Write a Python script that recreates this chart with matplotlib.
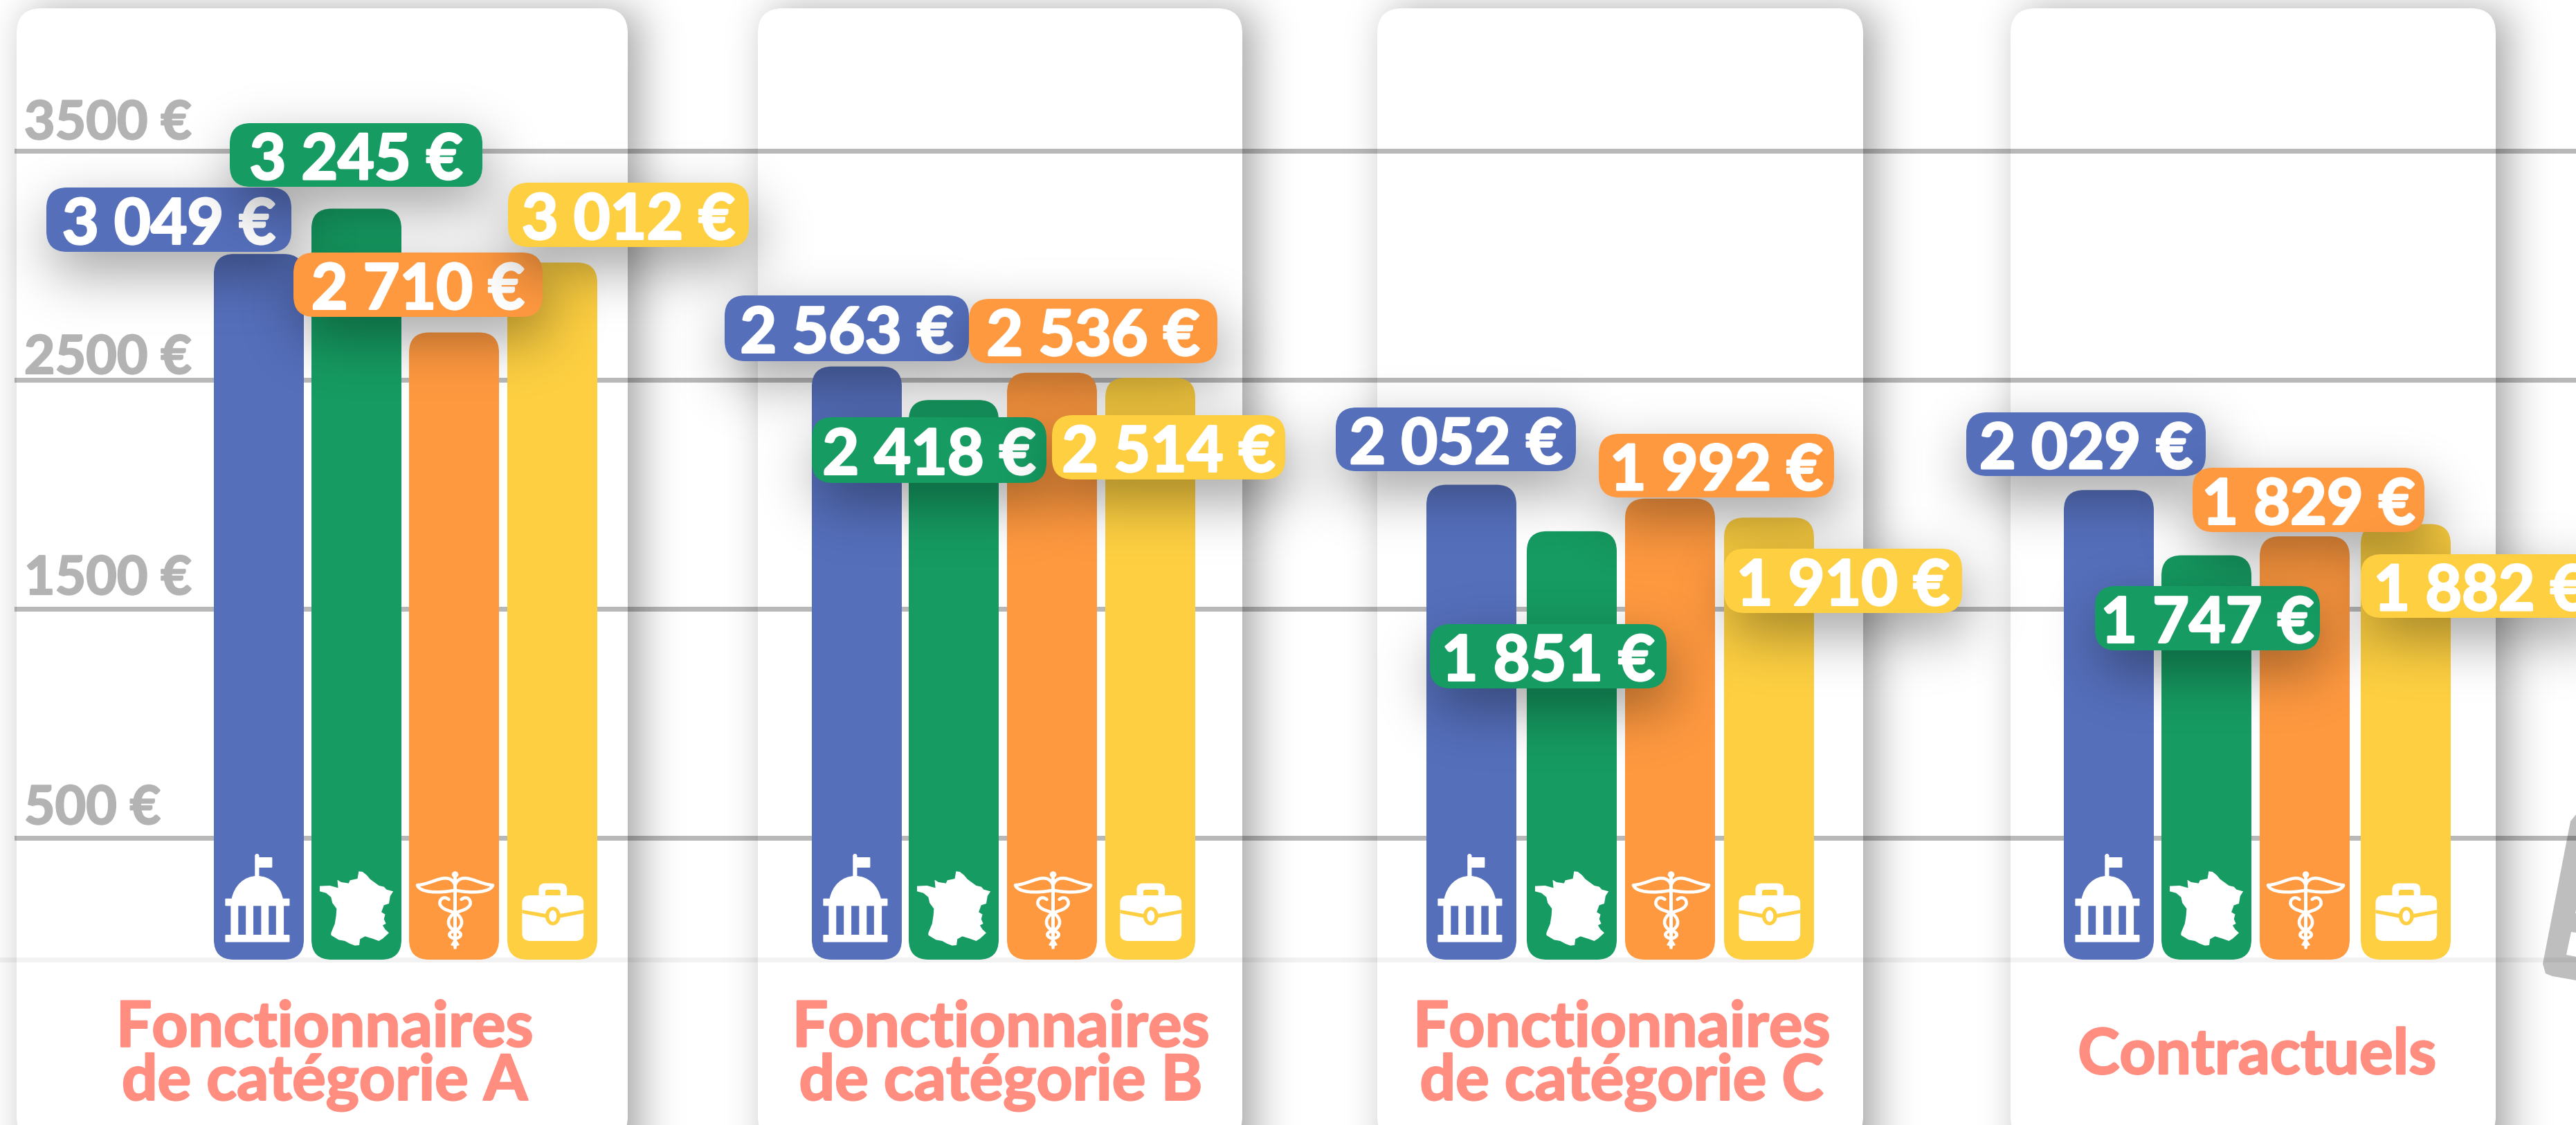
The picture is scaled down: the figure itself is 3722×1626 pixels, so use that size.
import math
import numpy as np
import matplotlib
matplotlib.use("Agg")
import matplotlib.pyplot as plt
import matplotlib.patheffects as pe
from matplotlib.patches import FancyBboxPatch, Polygon, Rectangle, Ellipse, Circle, PathPatch
from matplotlib.path import Path
from matplotlib.transforms import Affine2D, ScaledTranslation

W, H = 3723, 1626
FONT = ['Lato', 'DejaVu Sans']

# ---- data ----
groups = ["Fonctionnaires\nde catégorie A", "Fonctionnaires\nde catégorie B",
          "Fonctionnaires\nde catégorie C", "Contractuels"]
etat = [3049, 2563, 2052, 2029]
territoriale = [3245, 2418, 1851, 1747]
hospitaliere = [2710, 2536, 1992, 1829]
prive = [3012, 2514, 1910, 1882]
tick_values = [500, 1500, 2500, 3500]
tick_labels = ["500 €", "1500 €", "2500 €", "3500 €"]

# ---- layout, in pixels of the picture ----
colors = ["#556FBB", "#169B62", "#FF9940", "#FDCF41"]
cards = [(24, 907), (1095, 1795), (1990, 2692), (2905, 3606)]
bar_lefts = [[309, 450, 591, 733], [1173, 1313, 1455, 1597],
             [2061, 2206, 2348, 2491], [2982, 3123, 3265, 3411]]
BAR_W = 130
pill_boxes = [
    [(67, 421, 271, 364), (332, 697, 178, 270), (424, 784, 365, 458), (734, 1082, 264, 357)],
    [(1047, 1400, 427, 522), (1173, 1512, 603, 698), (1400, 1759, 432, 525), (1520, 1857, 600, 693)],
    [(1930, 2277, 589, 681), (2066, 2408, 902, 995), (2310, 2650, 627, 719), (2491, 2835, 793, 886)],
    [(2841, 3187, 596, 688), (3027, 3352, 847, 940), (3168, 3503, 676, 769), (3411, 3756, 801, 893)],
]
label_xc = [469, 1446, 2343, 3261]
label_yc = [1526, 1526, 1526, 1526]
tick_lift = [20, 21, 9, 17]      # gap between a tick label's baseline and its line

fig = plt.figure(figsize=(W / 100, H / 100), dpi=100, facecolor="white")
PX = Affine2D().scale(1, -1).translate(0, H)

ax_bg = fig.add_axes([0, 0, 1, 1], zorder=0)
ax_bg.set_xlim(0, W); ax_bg.set_ylim(H, 0); ax_bg.axis("off")

_erf = np.vectorize(math.erf)


def _phi(t):
    return 0.5 * (1 + _erf(t / math.sqrt(2)))


def soft_shadow(ax, x0, x1, y0, y1, sigma, total, z, dx=0, dy=0):
    """Blurred box shadow: the exact gaussian blur of a rectangle, shown as a smooth image."""
    m = 3.2 * sigma
    lx, rx = x0 + dx - m, x1 + dx + m
    ty, by = y0 + dy - m, y1 + dy + m
    xs = np.arange(lx, rx + 4, 4.0)
    ys = np.arange(ty, by + 4, 4.0)
    fx = _phi((xs - (x0 + dx)) / sigma) - _phi((xs - (x1 + dx)) / sigma)
    fy = _phi((ys - (y0 + dy)) / sigma) - _phi((ys - (y1 + dy)) / sigma)
    rgba = np.zeros((len(ys), len(xs), 4))
    rgba[..., 3] = total * np.outer(fy, fx)
    ax.imshow(rgba, extent=(xs[0], xs[-1], ys[-1], ys[0]), origin="upper", aspect="auto",
              interpolation="bilinear", zorder=z, transform=PX)


for x0, x1 in cards:
    soft_shadow(ax_bg, x0, x1, 12, 1900, 30, 0.37, 1, dx=18, dy=4)
for x0, x1 in cards:
    ax_bg.add_patch(FancyBboxPatch((x0, 12), x1 - x0, 1650 - 12,
                                   boxstyle="round,pad=0,rounding_size=36",
                                   fc="white", ec="none", zorder=3, transform=PX))

# the tilted grey shape cut by the right edge
ax_bg.add_patch(Polygon([(3723, 1176), (3714, 1187), (3674, 1393), (3678, 1407), (3688, 1411), (3723, 1417)],
                        closed=True, fc="#BEBEBE", ec="none", zorder=4, transform=PX))
ax_bg.add_patch(Polygon([(3723, 1348), (3715, 1347), (3708, 1380), (3723, 1383)],
                        closed=True, fc="white", ec="none", zorder=5, transform=PX))
ax_bg.add_patch(Polygon([(3723, 1310), (3721, 1320), (3723, 1320)],
                        closed=True, fc="white", ec="none", zorder=5, transform=PX))
ax_bg.set_xlim(0, W); ax_bg.set_ylim(H, 0)

# grid layer: 500 -> y=1211 px, 3500 -> y=218 px
ax_grid = fig.add_axes([21 / W, 0, 1 - 21 / W, 1], zorder=1)
ax_grid.patch.set_alpha(0)
k = (1211 - 218) / 3000
ax_grid.set_ylim(-(H - 1211) / k + 500, 1211 / k + 500)
ax_grid.set_xlim(0, 1)
for s in ax_grid.spines.values():
    s.set_visible(False)
ax_grid.set_xticks([])
ax_grid.set_yticks(tick_values)
ax_grid.set_yticklabels(tick_labels)
ax_grid.grid(axis="y", color="black", alpha=0.28, lw=7 * 0.72)
ax_grid.set_axisbelow(True)
ax_grid.tick_params(axis="y", length=0, pad=-10, labelsize=77 * 0.72)
for t, lift in zip(ax_grid.get_yticklabels(), tick_lift):
    t.set_ha("left")
    t.set_va("baseline")
    t.set_color("#B3B3B3")
    t.set_fontweight("bold")
    t.set_family(FONT)
    t.set_transform(t.get_transform() + ScaledTranslation(0, lift / 100, fig.dpi_scale_trans))
    t.set_path_effects([pe.withStroke(linewidth=1.6, foreground="#B3B3B3")])

# main layer: value axis 0 -> y=1387 px, scale 0.3345 px per euro
ax = fig.add_axes([0, 0, 1, 1], zorder=2)
ax.patch.set_alpha(0)
ax.axis("off")
S = 0.3345
ax.set_xlim(0, W)
ax.set_ylim(-(H - 1387) / S, 1387 / S)
ax.axhline(0, color="black", alpha=0.05, lw=7 * 0.72, zorder=1)

series = [etat, territoriale, hospitaliere, prive]
R = 29
for g in range(4):
    for s in range(4):
        ax.add_patch(FancyBboxPatch((bar_lefts[g][s], 0), BAR_W, series[s][g],
                                    boxstyle=f"round,pad=0,rounding_size={R}",
                                    mutation_aspect=1 / S,
                                    fc=colors[s], ec="none", zorder=2))


# ---- icons: outlines given in a drawing grid (x/2.75, y/3 px), placed from the bar's left edge ----
def icon_tf(left, zleft):
    return Affine2D().translate(-zleft, 0).scale(1 / 2.75, 1 / 3).translate(left, 1220) + PX


def capitol(a, left):
    tf = icon_tf(left, 25)
    kw = dict(fc="white", ec="none", zorder=4, transform=tf)
    for rx0, ry0, rx1, ry1 in [(70, 393, 326, 425), (70, 236, 326, 268), (92, 262, 122, 398), (152, 262, 182, 398),
                               (213, 262, 243, 398), (272, 262, 303, 398), (188, 48, 205, 150), (190, 57, 257, 102)]:
        a.add_patch(FancyBboxPatch((rx0, ry0), rx1 - rx0, ry1 - ry0, boxstyle="round,pad=0,rounding_size=3", **kw))
    a.add_patch(Circle((196.5, 50), 8, **kw))
    verts = [(95, 240), (105, 180), (145, 138), (197, 138), (250, 138), (290, 180), (300, 240), (95, 240)]
    a.add_patch(PathPatch(Path(verts, [1, 4, 4, 4, 4, 4, 4, 79]), **kw))


FRANCE = [(600, 118), (615, 120), (632, 135), (645, 152), (665, 168), (680, 180), (700, 185), (710, 197), (737, 205),
          (725, 225), (720, 258), (700, 265), (690, 295), (705, 305), (700, 325), (708, 345), (695, 352), (705, 370),
          (720, 385), (695, 410), (680, 420), (655, 410), (625, 400), (605, 412), (602, 438), (585, 440), (565, 432),
          (545, 420), (520, 415), (490, 395), (490, 385), (505, 345), (510, 310), (512, 280), (495, 255), (490, 230),
          (470, 212), (445, 205), (445, 182), (485, 180), (518, 190), (515, 155), (530, 165), (560, 170), (565, 157),
          (595, 150)]


def france(a, left):
    a.add_patch(Polygon(FRANCE, closed=True, fc="white", ec="none", zorder=4, transform=icon_tf(left, 412)))


def caduceus(a, left):
    tf = icon_tf(left, 802)
    lw = 4.6 * 0.72
    kw = dict(ec="white", fc="none", lw=lw, zorder=4, transform=tf, capstyle="round", joinstyle="round")
    a.add_patch(Rectangle((978, 145), 14, 290, fc="white", ec="none", zorder=4, transform=tf))
    a.add_patch(Ellipse((985, 132), 26, 28, fc="white", ec="none", zorder=4, transform=tf))
    a.add_patch(Polygon([(985, 405), (1003, 438), (992, 442), (990, 455), (980, 455), (978, 442), (967, 438)],
                        closed=True, fc="white", ec="none", zorder=4, transform=tf))
    for sg in (-1, 1):
        def m(pts):
            return [(985 + sg * x, y) for x, y in pts]
        wing = m([(0, 200), (70, 215), (140, 210), (150, 178), (105, 175), (65, 145), (35, 148), (10, 150), (0, 170),
                  (0, 185)])
        a.add_patch(PathPatch(Path(wing, [1] + [4] * 9), **kw))
        snake = m([(25, 240), (45, 222), (65, 240), (60, 262), (50, 285), (20, 290), (0, 298),
                   (-35, 320), (-35, 360), (0, 375), (-35, 385), (-25, 405), (0, 410)])
        a.add_patch(PathPatch(Path(snake, [1] + [4] * 12), **kw))


def briefcase(a, left):
    tf = icon_tf(left, 1191)
    y = colors[3]
    a.add_patch(FancyBboxPatch((1316, 170), 112, 70, boxstyle="round,pad=0,rounding_size=26",
                               fc="white", ec="none", zorder=4, transform=tf))
    a.add_patch(FancyBboxPatch((1342, 198), 60, 40, boxstyle="round,pad=0,rounding_size=8",
                               fc=y, ec="none", zorder=4, transform=tf))
    a.add_patch(FancyBboxPatch((1250, 222), 244, 198, boxstyle="round,pad=0,rounding_size=32",
                               fc="white", ec="none", zorder=4, transform=tf))
    a.add_patch(Polygon([(1250, 285), (1345, 303), (1345, 320), (1250, 300)], closed=True, fc=y, ec="none",
                        zorder=5, transform=tf))
    a.add_patch(Polygon([(1494, 285), (1399, 303), (1399, 320), (1494, 300)], closed=True, fc=y, ec="none",
                        zorder=5, transform=tf))
    a.add_patch(Ellipse((1372, 312), 60, 80, fc=y, ec="none", zorder=5, transform=tf))
    a.add_patch(Ellipse((1372, 312), 30, 50, fc="white", ec="none", zorder=5, transform=tf))


for g in range(4):
    capitol(ax, bar_lefts[g][0])
    france(ax, bar_lefts[g][1])
    caduceus(ax, bar_lefts[g][2])
    briefcase(ax, bar_lefts[g][3])

# ---- value labels ----
z = 10
for g in range(4):
    for s in range(4):
        x0, x1, y0, y1 = pill_boxes[g][s]
        soft_shadow(ax, x0, x1, y0, y1, 40, 0.38, z, dx=8, dy=30)
        ax.add_patch(FancyBboxPatch((x0, y0), x1 - x0, y1 - y0,
                                    boxstyle="round,pad=0,rounding_size=30",
                                    fc=colors[s], ec="none", zorder=z + 1, transform=PX))
        v = series[s][g]
        txt = f"{v // 1000} {v % 1000:03d} €"
        ax.text((x0 + x1) / 2, (y0 + y1) / 2 + 1, txt, color="white", ha="center", va="center_baseline",
                fontsize=91 * 0.72, fontweight="bold", family=FONT, zorder=z + 2, transform=PX,
                path_effects=[pe.withStroke(linewidth=2.2, foreground="white")])
        z += 3

# ---- group titles ----
for g, name in enumerate(groups):
    ax.text(label_xc[g], label_yc[g], name, color="#FF8D80", ha="center", va="center",
            fontsize=91 * 0.72, fontweight="bold", family=FONT, linespacing=0.9,
            zorder=5, transform=PX,
            path_effects=[pe.withStroke(linewidth=1.8, foreground="#FF8D80")])

ax.set_xlim(0, W)
ax.set_ylim(-(H - 1387) / S, 1387 / S)

fig.savefig("out.png", dpi=100)
